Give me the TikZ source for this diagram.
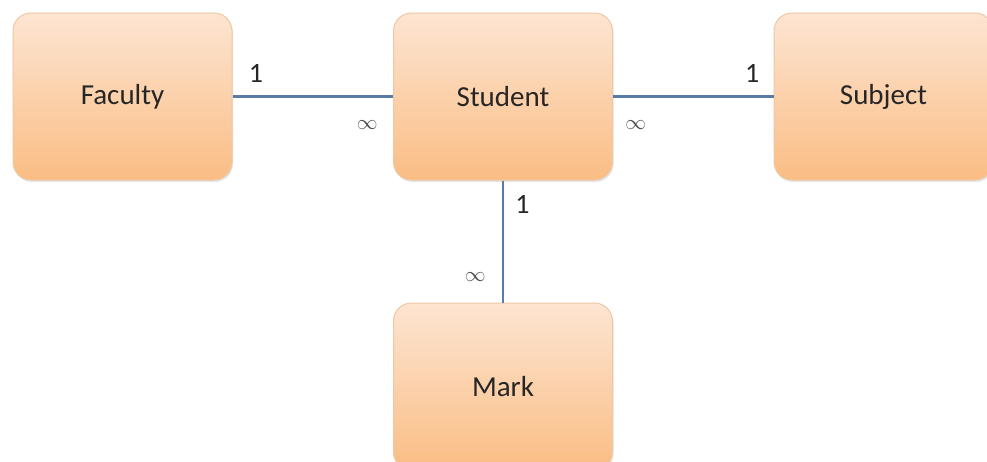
\documentclass[tikz,border=0pt]{standalone}
\usepackage{fontspec}
\setmainfont{Carlito}
\usetikzlibrary{positioning,shadows}

\definecolor{topo}{RGB}{253,229,210}
\definecolor{fundo}{RGB}{250,189,132}
\definecolor{borda}{RGB}{238,200,165}
\definecolor{linha}{RGB}{88,124,168}

\tikzset{
  entity/.style={rectangle, rounded corners=18pt, minimum width=219pt, minimum height=167pt,
    top color=topo, bottom color=fundo, draw=borda, line width=1pt,
    drop shadow={opacity=0.2, shadow xshift=1pt, shadow yshift=-2pt},
    text=black!85, font=\fontsize{29}{29}\selectfont},
  rel/.style={draw=linha, line width=2.6pt},
  card/.style={inner sep=0pt, text=black!85, font=\fontsize{28}{28}\selectfont},
  inf/.style={inner sep=0pt, font=\fontsize{20}{20}\selectfont, text=black!70}
}

\begin{document}
\begin{tikzpicture}[x=1pt,y=-1pt,node distance=122pt and 160.5pt]
  \useasboundingbox (0,0) rectangle (987,461);
  \clip (0,0) rectangle (987,461);
  \node[entity] (student) at (503,96.5) {Student};
  \node[entity, left=of student] (faculty) {Faculty};
  \node[entity, right=of student] (subject) {Subject};
  \node[entity, below=of student] (mark) {Mark};

  \draw[rel] (faculty) -- node[card, pos=0, above right=13pt and 15pt] {1}
    node[inf, pos=1, below left=23pt and 14pt] {$\infty$} (student);
  \draw[rel] (student) -- node[inf, pos=0, below right=23pt and 11pt] {$\infty$}
    node[card, pos=1, above left=13pt and 13pt] {1} (subject);
  \draw[rel] (student) -- node[card, pos=0, below right=14pt and 11pt] {1}
    node[inf, pos=1, above left=20pt and 16pt] {$\infty$} (mark);
\end{tikzpicture}
\end{document}
